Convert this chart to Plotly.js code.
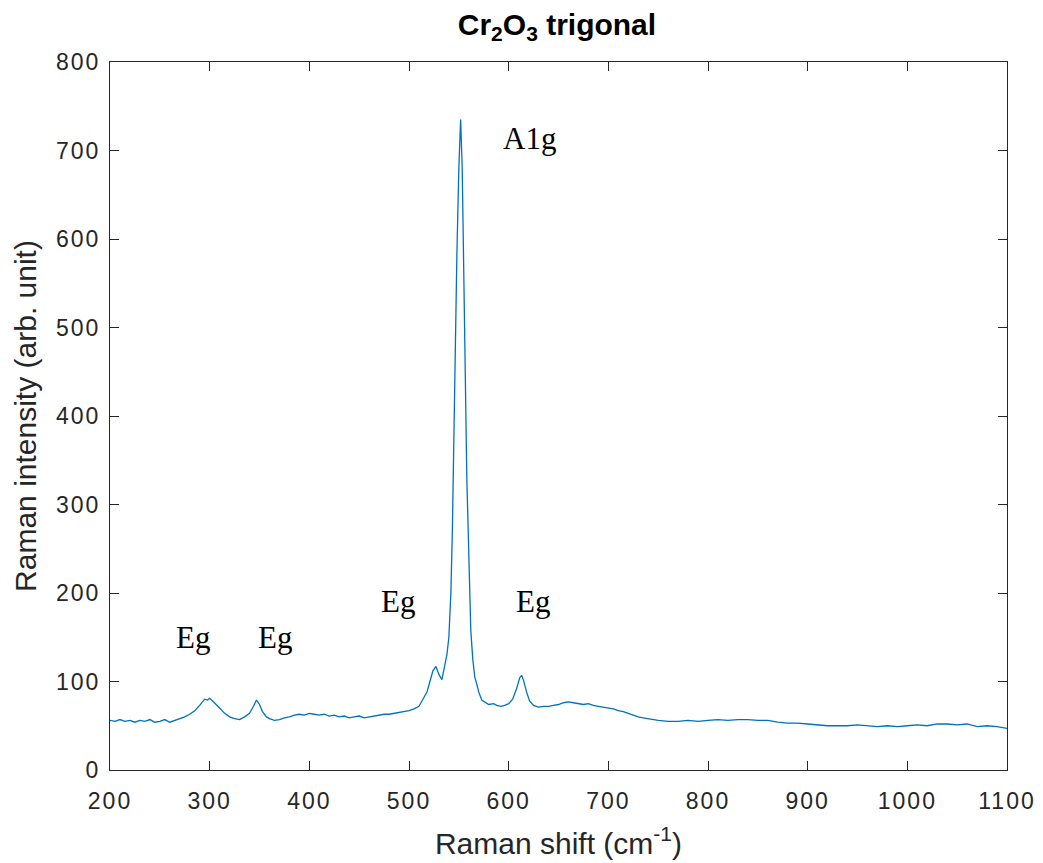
<!DOCTYPE html>
<html>
<head>
<meta charset="utf-8">
<script src="https://cdn.plot.ly/plotly-3.0.1.min.js"></script>
<style>
html,body{margin:0;padding:0;background:#fff;}
#chart{width:1043px;height:863px;}
#chart .xtick text, #chart .ytick text{letter-spacing:2px;}
</style>
</head>
<body>
<div id="chart"></div>
<script>
const ramanShift = [200,205,210,215,220,225,230,235,240,245,250,255,260,265,270,275,280,285,290,295,298,300,303,306,310,315,320,325,330,335,340,344,347,350,353,357,360,365,370,375,380,385,390,395,400,405,410,415,420,425,430,435,440,445,450,455,460,465,470,475,480,485,490,495,500,505,510,514,518,521,524,527,530,533,536,538,540,542,543.5,545,546.5,548,550,551.8,553.4,554.5,556.7,558,559.4,561,562,564,566,568,570,573,576,580,585,588,592,596,600,604,608,611,613,615,618,621,625,630,635,640,645,650,655,660,665,670,675,680,685,690,695,700,705,710,715,720,725,730,735,740,745,750,760,770,780,790,800,810,820,830,840,850,860,870,880,890,900,910,920,930,940,950,960,970,980,990,1000,1010,1020,1030,1040,1050,1060,1070,1080,1090,1100];
const intensity = [56,55,57,55,56,54,56,55,57,54,55,57,54,56,58,60,63,67,73,80,79,81,78,75,70,64,60,58,57,60,64,72,79,74,66,60,58,56,57,59,60,62,63,62,64,63,62,63,61,62,60,61,59,60,61,59,60,61,62,63,63,64,65,66,67,69,72,80,88,100,112,117,108,102,118,130,150,200,270,380,480,580,680,735,680,580,384,330,271,200,158,125,105,97,88,79,77,74,75,73,72,73,75,80,92,104,107,101,88,78,73,71,72,72,73,74,76,77,76,75,74,75,73,72,71,70,69,67,66,64,62,60,59,58,57,56,55,55,56,55,56,57,56,57,57,56,56,54,53,53,52,51,50,50,50,51,50,49,50,49,50,51,50,52,52,51,52,49,50,49,47];
const peakLabels = ["Eg","Eg","Eg","Eg","A1g"];
const peakLabelX = [283,366,489,624,621];
const peakLabelY = [150,150,190,190,714];
const xTicks = [200,300,400,500,600,700,800,900,1000,1100];
const yTicks = [0,100,200,300,400,500,600,700,800];

const axisColor = '#262626';
const sans = 'Liberation Sans, Arial, Helvetica, sans-serif';
const trace = {
  x: ramanShift, y: intensity, type: 'scatter', mode: 'lines',
  line: {color: '#0072BD', width: 1.3}, hoverinfo: 'skip'
};
const annotations = peakLabels.map((t, i) => ({
  x: peakLabelX[i], y: peakLabelY[i], xref: 'x', yref: 'y', text: t,
  showarrow: false, font: {family: 'Liberation Serif, Times New Roman, serif', size: 31, color: '#000'}
}));
const axisCommon = {
  showgrid: false, zeroline: false, showline: true, linecolor: axisColor, linewidth: 1,
  mirror: 'ticks', ticks: 'inside', ticklen: 9, tickcolor: axisColor, tickwidth: 1,
  tickfont: {family: sans, size: 23, color: axisColor}
};
const layout = {
  width: 1043, height: 863,
  margin: {l: 110, r: 36, t: 62, b: 93},
  paper_bgcolor: '#fff', plot_bgcolor: '#fff',
  showlegend: false,
  title: {text: '<b>Cr<sub>2</sub>O<sub>3</sub> trigonal</b>', x: 0.534, xanchor: 'center', yref: 'container', y: 0.972, yanchor: 'middle',
          font: {family: sans, size: 30, color: '#000'}},
  xaxis: Object.assign({}, axisCommon, {range: [200, 1100], tickvals: xTicks, ticktext: xTicks.map(String),
    ticklabelstandoff: 10,
    title: {text: 'Raman shift (cm<sup>-1</sup>)', standoff: 20, font: {family: sans, size: 30, color: axisColor}}}),
  yaxis: Object.assign({}, axisCommon, {range: [0, 800], tickvals: yTicks, ticktext: yTicks.map(String),
    ticklabelstandoff: 4,
    title: {text: 'Raman intensity (arb. unit)', standoff: 16, font: {family: sans, size: 30, color: axisColor}}}),
  annotations: annotations
};
Plotly.newPlot('chart', [trace], layout, {displayModeBar: false, staticPlot: true});
</script>
</body>
</html>
